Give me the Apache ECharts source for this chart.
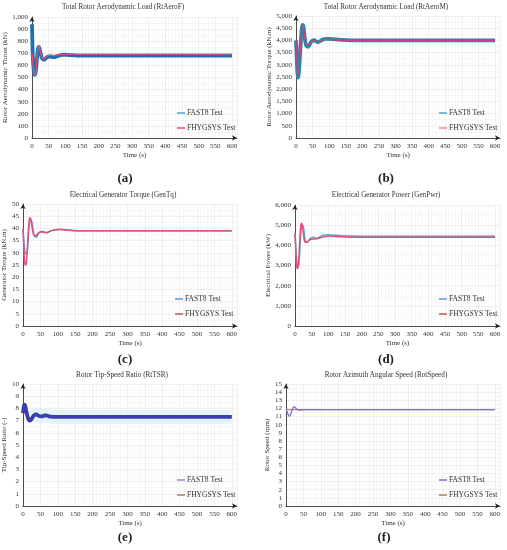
<!DOCTYPE html>
<html>
<head>
<meta charset="utf-8">
<script src="https://cdn.jsdelivr.net/npm/echarts@6/dist/echarts.min.js"></script>
<style>
html,body{margin:0;padding:0;background:#fff;}
.c{position:absolute;left:0;top:0;width:507px;height:550px;}
</style>
</head>
<body>
<div id="p0" class="c"></div><div id="p1" class="c"></div><div id="p2" class="c"></div>
<div id="p3" class="c"></div><div id="p4" class="c"></div><div id="p5" class="c"></div>
<script>
// shared time samples (s)
const time = [0,2,4,6,8,10,12,14,16,18,20,22,24,26,28,30,33,36,39,42,45,50,55,60,65,70,75,80,90,100,110,120,130,140,150,175,200,250,300,350,400,450,500,550,600];

// (a) Rotor aerodynamic thrust (kN)
const thrustFAST8 = [940,700,600,540,522,530,570,630,690,735,752,745,720,695,675,660,650,647,652,660,667,672,674,670,668,670,675,680,686,688,686,684,682,680,680,680,680,680,680,680,680,680,680,680,680];
const thrustFHYGSYS = [700,640,580,535,520,528,565,625,690,740,758,750,725,700,680,665,657,655,660,668,675,682,685,684,683,684,686,688,690,692,692,692,692,692,692,692,692,692,692,692,692,692,692,692,692];

// (b) Rotor aerodynamic torque (kN·m)
const torqueFAST8 = [4000,3300,2700,2480,2600,2950,3400,3850,4250,4530,4640,4600,4400,4150,3950,3820,3750,3740,3780,3850,3920,3990,4010,3970,3930,3950,3990,4030,4060,4060,4050,4040,4030,4020,4010,4000,4000,4000,4000,4000,4000,4000,4000,4000,4000];
const torqueFHYGSYS = [4000,3400,2800,2600,2650,2950,3400,3850,4250,4520,4610,4570,4380,4150,3970,3850,3790,3780,3810,3870,3930,3980,3990,3960,3940,3960,3990,4020,4040,4040,4030,4020,4010,4010,4005,4000,4000,4000,4000,4000,4000,4000,4000,4000,4000];

// (c) Generator torque (kN·m)
const genTqFAST8 = [40,36,32,30,29.5,29.3,30.5,34,38.5,41.5,43,43.5,43.5,42.5,40.5,38.5,37,36.5,36.5,37.2,38,38.7,38.8,38.5,38.3,38.2,38.6,39,39.4,39.6,39.6,39.4,39.3,39.2,39.1,39,39,39,39,39,39,39,39,39,39];
const genTqFHYGSYS = [40,33,27.5,25.2,25,26.5,30,35.5,40.5,43.5,44.5,44,42.5,40.5,38.8,37.7,37,37,37.3,37.8,38.2,38.5,38.5,38.4,38.3,38.4,38.7,39,39.3,39.5,39.5,39.4,39.2,39.1,39,39,39,39,39,39,39,39,39,39,39];

// (d) Electrical power (kW)
const genPwrFAST8 = [4600,4100,3500,3150,3000,2980,3150,3600,4250,4700,4950,5000,5000,4850,4550,4300,4170,4150,4180,4250,4320,4380,4400,4370,4350,4370,4420,4470,4510,4520,4510,4500,4490,4480,4470,4460,4450,4450,4450,4450,4450,4450,4450,4450,4450];
const genPwrFHYGSYS = [4600,3800,3100,2870,2850,3000,3450,4100,4700,5050,5100,5000,4750,4450,4250,4170,4150,4160,4200,4250,4280,4300,4310,4320,4330,4350,4380,4400,4430,4450,4450,4440,4430,4420,4410,4400,4400,4400,4400,4400,4400,4400,4400,4400,4400];

// (e) Tip-speed ratio (-)
const tsrFAST8 = [7.6,8.1,8.3,8.25,8.0,7.7,7.45,7.25,7.1,7.02,7.0,7.02,7.1,7.2,7.3,7.38,7.45,7.5,7.5,7.45,7.4,7.35,7.35,7.4,7.42,7.4,7.35,7.32,7.3,7.3,7.3,7.3,7.3,7.3,7.3,7.3,7.3,7.3,7.3,7.3,7.3,7.3,7.3,7.3,7.3];
const tsrFHYGSYS = [7.6,8.1,8.3,8.25,8.0,7.7,7.45,7.25,7.1,7.02,7.0,7.02,7.1,7.2,7.3,7.38,7.45,7.5,7.5,7.45,7.4,7.35,7.35,7.4,7.42,7.4,7.35,7.32,7.3,7.3,7.3,7.3,7.3,7.3,7.3,7.3,7.3,7.3,7.3,7.3,7.3,7.3,7.3,7.3,7.3];

// (f) Rotor speed (rpm)
const rotSpdFAST8 = [11.85,11.7,11.5,11.25,11.08,11.05,11.15,11.35,11.6,11.85,12.05,12.18,12.2,12.15,12.05,11.95,11.85,11.8,11.78,11.8,11.82,11.83,11.84,11.85,11.85,11.85,11.85,11.85,11.85,11.85,11.85,11.85,11.85,11.85,11.85,11.85,11.85,11.85,11.85,11.85,11.85,11.85,11.85,11.85,11.85];
const rotSpdFHYGSYS = [11.85,11.85,11.85,11.85,11.85,11.85,11.85,11.85,11.85,11.85,11.85,11.85,11.85,11.85,11.85,11.85,11.85,11.85,11.85,11.85,11.85,11.85,11.85,11.85,11.85,11.85,11.85,11.85,11.85,11.85,11.85,11.85,11.85,11.85,11.85,11.85,11.85,11.85,11.85,11.85,11.85,11.85,11.85,11.85,11.85];

const pair = (ys) => time.map((t, i) => [t, ys[i]]);
const FONT = '"Liberation Serif", "DejaVu Serif", serif';

const panels = [
  {title:'Total Rotor Aerodynamic Load (RtAeroF)', tx:123, ty:7, cap:'(a)', cx:125, cy:179,
   grid:{left:32, top:17, width:205, height:121}, yMax:1000, yInt:100, yName:'Rotor Aerodynamic Thrust (kN)', yGap:22,
   legend:{left:172, top:104}, fast:thrustFAST8, fhy:thrustFHYGSYS,
   fastLine:'#1f6fae', fastW:3.8, fastLeg:'#4bacc6', fhyLine:'#ee4f6c', fhyW:1.2, fhyLeg:'#ee4f6c', fhyTop:true},
  {title:'Total Rotor Aerodynamic Load (RtAeroM)', tx:386, ty:7, cap:'(b)', cx:386, cy:179,
   grid:{left:296, top:16, width:204, height:122}, yMax:5000, yInt:500, yName:'Rotor Aerodynamic Torque (kN.m)', yGap:23,
   legend:{left:434, top:104}, fast:torqueFAST8, fhy:torqueFHYGSYS,
   fastLine:'#2a86a8', fastW:3.8, fastLeg:'#4bacc6', fhyLine:'#d2407e', fhyW:1.2, fhyLeg:'#f48a96', fhyTop:true},
  {title:'Electrical Generator Torque (GenTq)', tx:123, ty:195, cap:'(c)', cx:125, cy:360,
   grid:{left:23, top:204, width:214, height:122}, yMax:50, yInt:5, yName:'Generator Torque (kN.m)', yGap:13,
   legend:{left:170, top:290}, fast:genTqFAST8, fhy:genTqFHYGSYS,
   fastLine:'#5b9bd5', fastW:1.5, fastLeg:'#5b9bd5', fhyLine:'#e0507a', fhyW:1.5, fhyLeg:'#b45a5a', fhyTop:true},
  {title:'Electrical Generator Power (GenPwr)', tx:386, ty:195, cap:'(d)', cx:386, cy:360,
   grid:{left:295, top:205, width:205, height:121}, yMax:6000, yInt:1000, yName:'Electrical Power (kW)', yGap:22,
   legend:{left:434, top:290}, fast:genPwrFAST8, fhy:genPwrFHYGSYS,
   fastLine:'#4bacc6', fastW:1.5, fastLeg:'#5b9bd5', fhyLine:'#e0507a', fhyW:1.5, fhyLeg:'#b45a5a', fhyTop:true},
  {title:'Rotor Tip-Speed Ratio (RtTSR)', tx:122, ty:375, cap:'(e)', cx:125, cy:538,
   grid:{left:23, top:384, width:214, height:122}, yMax:10, yInt:1, yName:'Tip-Speed Ratio (-)', yGap:13,
   legend:{left:172, top:471}, fast:tsrFAST8, fhy:tsrFHYGSYS, halo:'#dcf3f8',
   fastLine:'#3b3fae', fastW:3.8, fastLeg:'#8a8ae0', fhyLine:'#b08060', fhyW:1.2, fhyLeg:'#b08060', fhyTop:false},
  {title:'Rotor Azimuth Angular Speed (RotSpeed)', tx:386, ty:375, cap:'(f)', cx:384, cy:538,
   grid:{left:286, top:384, width:214, height:122}, yMax:15, yInt:1, yName:'Rotor Speed (rpm)', yGap:13,
   legend:{left:434, top:471}, fast:rotSpdFAST8, fhy:rotSpdFHYGSYS,
   fastLine:'#7777cc', fastW:1.3, fastLeg:'#7777cc', fhyLine:'#c08a6a', fhyW:1.3, fhyLeg:'#b07858', fhyTop:false}
];

panels.forEach((p, i) => {
  const chart = echarts.init(document.getElementById('p' + i), null, {renderer:'canvas'});
  const series = [];
  if (p.halo) {
    series.push({name:'halo', type:'line', data:pair(p.fast).filter(d => d[0] >= 24), showSymbol:false, smooth:0.35,
      lineStyle:{color:p.halo, width:14, opacity:0.8}, z:1, silent:true});
  }
  series.push({name:'FAST8 Test', type:'line', data:pair(p.fast), showSymbol:false, smooth:0.35,
    itemStyle:{color:p.fastLeg}, lineStyle:{color:p.fastLine, width:p.fastW}, z:p.fhyTop?2:3, silent:true});
  series.push({name:'FHYGSYS Test', type:'line', data:pair(p.fhy), showSymbol:false, smooth:0.35,
    itemStyle:{color:p.fhyLeg}, lineStyle:{color:p.fhyLine, width:p.fhyW}, z:p.fhyTop?3:2, silent:true});
  chart.setOption({
    animation:false,
    backgroundColor: i === 0 ? '#fff' : 'transparent',
    textStyle:{fontFamily:FONT},
    grid:p.grid,
    legend:{left:p.legend.left, top:p.legend.top, orient:'vertical', itemGap:7, icon:'rect', itemWidth:8, itemHeight:1.5,
      textStyle:{fontFamily:FONT, fontSize:7.5, color:'#333', padding:[0,0,0,-3]},
      data:[{name:'FAST8 Test', itemStyle:{color:p.fastLeg}}, {name:'FHYGSYS Test', itemStyle:{color:p.fhyLeg}}]},
    xAxis:{type:'value', min:0, max:615, interval:50,
      name:'Time (s)', nameLocation:'middle', nameGap:14, nameTextStyle:{fontFamily:FONT, fontSize:7, color:'#333'},
      axisLine:{lineStyle:{color:'#222', width:0.8}, symbol:['none','arrow'], symbolSize:[4,5]},
      axisTick:{show:false},
      axisLabel:{fontFamily:FONT, fontSize:7, color:'#333', margin:5, showMaxLabel:false,
        formatter:(v)=> (v % 50 === 0 ? String(v) : '')},
      splitLine:{show:true, lineStyle:{color:'#e4e4e4', width:0.6}},
      minorTick:{show:false, splitNumber:5},
      minorSplitLine:{show:true, lineStyle:{color:'#f1f1f1', width:0.5}}},
    yAxis:{type:'value', min:0, max:p.yMax, interval:p.yInt,
      name:p.yName, nameLocation:'middle', nameGap:p.yGap, nameRotate:90,
      nameTextStyle:{fontFamily:FONT, fontSize:7, color:'#333'},
      axisLine:{show:true, lineStyle:{color:'#222', width:0.8}, symbol:['none','arrow'], symbolSize:[4,5]},
      axisTick:{show:false},
      axisLabel:{fontFamily:FONT, fontSize:7, color:'#333', margin:4,
        formatter:(v)=> v.toLocaleString('en-US')},
      splitLine:{show:true, lineStyle:{color:'#e4e4e4', width:0.6}},
      minorTick:{show:false, splitNumber:2},
      minorSplitLine:{show:true, lineStyle:{color:'#f1f1f1', width:0.5}}},
    graphic:[
      {type:'text', x:p.tx, y:p.ty, style:{text:p.title, fontFamily:FONT, fontSize:7.2, fill:'#333', align:'center', verticalAlign:'middle'}},
      {type:'text', x:p.cx, y:p.cy, style:{text:p.cap, fontFamily:FONT, fontSize:13, fontWeight:'bold', fill:'#222', align:'center', verticalAlign:'middle'}}
    ],
    series:series
  });
});
</script>
</body>
</html>
